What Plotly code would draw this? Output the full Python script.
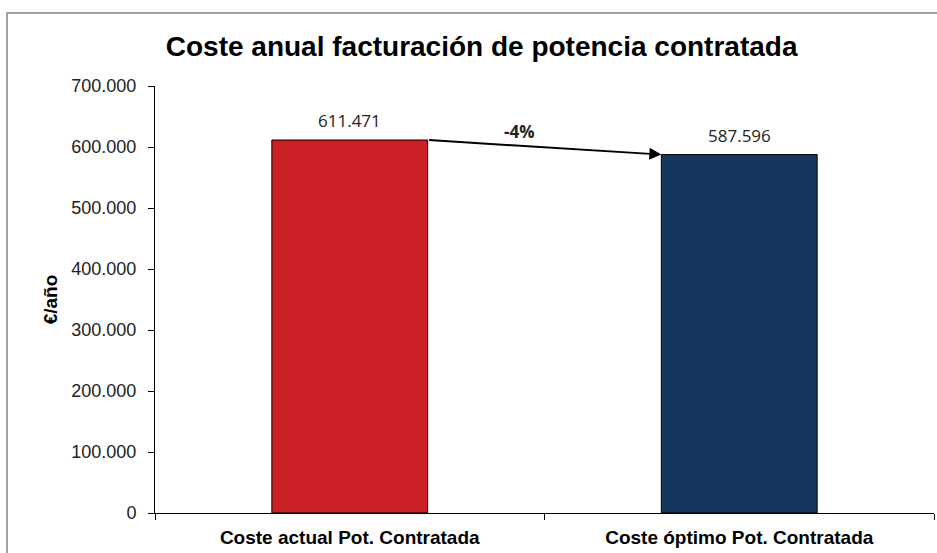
import plotly.graph_objects as go

categories = ["Coste actual Pot. Contratada", "Coste óptimo Pot. Contratada"]
values = [611471, 587596]
bar_colors = ["#CC2027", "#17365D"]
change_label = "-4%"
y_ticks = [0, 100000, 200000, 300000, 400000, 500000, 600000, 700000]

fig = go.Figure()
fig.add_trace(go.Bar(
    x=categories,
    y=values,
    width=0.4,
    marker=dict(color=bar_colors, line=dict(color="black", width=1)),
    cliponaxis=False,
))

# etiquetas de valor sobre las barras
for cat, v in zip(categories, values):
    fig.add_annotation(
        x=cat, y=v, xref="x", yref="y", yanchor="bottom", yshift=6,
        text=f"{v:,}".replace(",", "."), showarrow=False,
        font=dict(family="Open Sans, Liberation Sans", size=17, color="#222"),
    )

# flecha entre las dos barras
fig.add_annotation(
    x=0.8, y=values[1], xref="x", yref="y",
    ax=0.2, ay=values[0], axref="x", ayref="y",
    showarrow=True, arrowhead=2, arrowsize=1.2, arrowwidth=2, arrowcolor="black",
    text="",
)
fig.add_annotation(
    x=0.5, y=values[0], xref="x", yref="y", xshift=-25, yshift=9,
    text=f"<b>{change_label}</b>", showarrow=False, yanchor="middle",
    font=dict(family="Open Sans, Liberation Sans", size=17, color="#222"),
)

# marco gris del gráfico
fig.add_shape(
    type="rect", xref="paper", yref="paper",
    x0=-0.19, y0=-0.3, x1=1.2, y1=1.171,
    line=dict(color="#A0A0A0", width=2), fillcolor="rgba(0,0,0,0)",
)

fig.update_layout(
    title=dict(text="<b>Coste anual facturación de potencia contratada</b>",
               x=0.514, xanchor="center", y=0.917, yanchor="middle",
               font=dict(family="Liberation Sans", size=28, color="black")),
    width=937, height=553,
    margin=dict(l=155, r=3, t=86, b=40),
    plot_bgcolor="white", paper_bgcolor="white",
    separators=",.",
    showlegend=False,
)
fig.update_yaxes(
    range=[0, 700000], tickvals=y_ticks, tickformat=",d",
    showgrid=False, zeroline=False, automargin=False,
    showline=True, linecolor="black", linewidth=1,
    ticks="outside", ticklen=6, tickcolor="black", ticklabelstandoff=8,
    tickfont=dict(family="Liberation Sans", size=18, color="#222"),
    title=dict(text="<b>€/año</b>", font=dict(family="Liberation Sans", size=19, color="black"), standoff=8),
)
fig.update_xaxes(
    showgrid=False, showline=True, linecolor="black", linewidth=1, automargin=False,
    ticks="outside", tickson="boundaries", ticklen=6, tickcolor="black",
    ticklabelstandoff=7,
    tickfont=dict(family="Liberation Sans", size=19, color="black"),
    tickprefix="<b>", ticksuffix="</b>",
)

# sin margen ni barras de desplazamiento en la página
fig.write_html("out.html", config={"displayModeBar": False},
               post_script="document.body.style.margin='0';document.body.style.overflow='hidden';")
